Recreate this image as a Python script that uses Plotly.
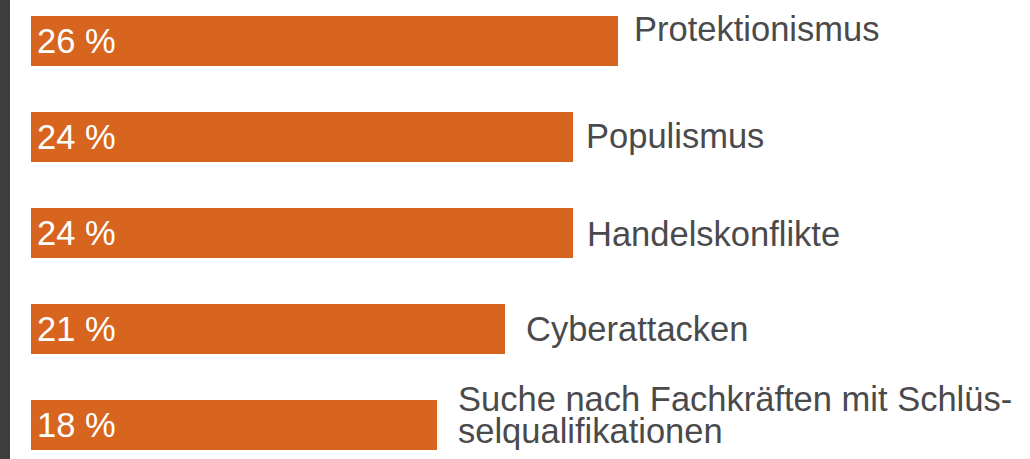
import plotly.graph_objects as go

# ---- data ----
categories = [
    "Protektionismus",
    "Populismus",
    "Handelskonflikte",
    "Cyberattacken",
    "Suche nach Fachkräften mit Schlüs-<br>selqualifikationen",
]
values = [26, 24, 24, 21, 18]
value_labels = ["26 %", "24 %", "24 %", "21 %", "18 %"]

# ---- label placement (pixels) ----
label_xshift = [14, 11, 12, 19, 19]
label_yshift = [12, 1, -0.5, 0, 0]
line_gap = 32

BAR_COLOR = "#d8651f"
TEXT_COLOR = "#4a4a4c"
FONT = "Liberation Sans, Arial, Helvetica, sans-serif"
FS = 34.5

ypos = list(range(len(values)))

fig = go.Figure()
fig.add_trace(go.Bar(
    x=values,
    y=ypos,
    orientation="h",
    width=0.522,
    marker=dict(color=BAR_COLOR, line=dict(width=0)),
    hoverinfo="skip",
))

annotations = []
# value labels inside bars
for i, lab in enumerate(value_labels):
    annotations.append(dict(
        x=0, y=i, xref="x", yref="y",
        text=lab, showarrow=False,
        xanchor="left", yanchor="middle",
        xshift=4, yshift=0,
        font=dict(family=FONT, size=FS, color="white"),
    ))
# category labels right of bars
for i, (cat, v) in enumerate(zip(categories, values)):
    lines = cat.split("<br>")
    n = len(lines)
    for j, line in enumerate(lines):
        off = (n - 1) / 2 * line_gap - j * line_gap
        annotations.append(dict(
            x=v, y=i, xref="x", yref="y",
            text=line, showarrow=False,
            xanchor="left", yanchor="middle",
            xshift=label_xshift[i],
            yshift=label_yshift[i] + off + (10 if n > 1 else 0),
            font=dict(family=FONT, size=FS, color=TEXT_COLOR),
        ))

fig.update_layout(
    width=1030, height=459,
    margin=dict(l=31, r=0, t=0, b=0),
    paper_bgcolor="white",
    plot_bgcolor="white",
    showlegend=False,
    bargap=0,
    xaxis=dict(range=[0, 44.25], visible=False, fixedrange=True),
    yaxis=dict(range=[4.36, -0.433], visible=False, fixedrange=True),
    annotations=annotations,
    shapes=[dict(
        type="rect", xref="paper", yref="paper",
        xsizemode="pixel", xanchor=0, x0=-31, x1=-21,
        y0=0, y1=1, fillcolor="#3d3d40", line=dict(width=0), layer="above",
    )],
)

fig.write_html(
    "out.html",
    config={"displayModeBar": False},
    post_script="document.body.style.margin='0';document.body.style.overflow='hidden';",
)
